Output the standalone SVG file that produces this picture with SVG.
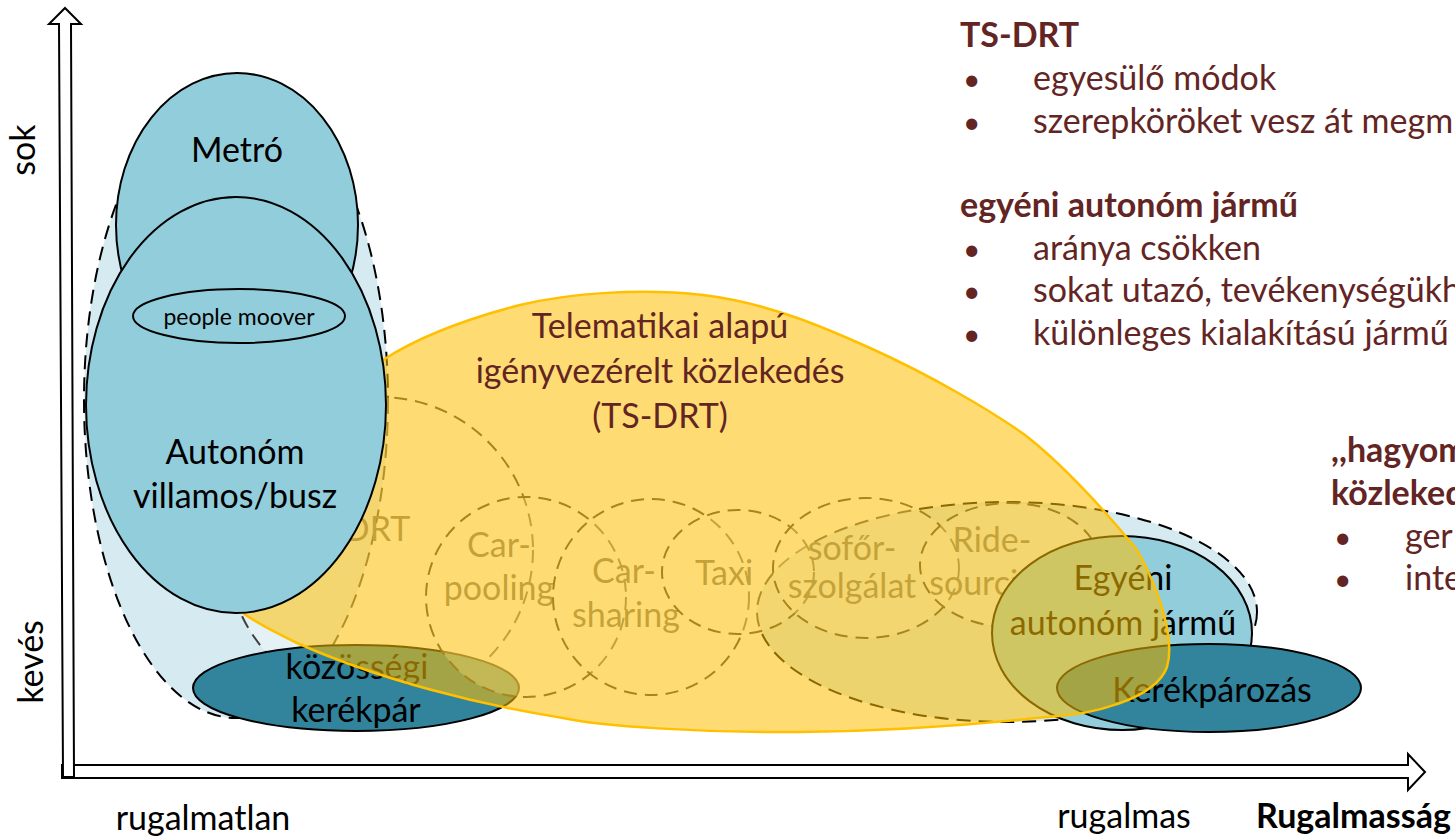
<svg xmlns="http://www.w3.org/2000/svg" width="1455" height="837" viewBox="0 0 1455 837">
<style>
text{font-family:Lato,"Open Sans",sans-serif;font-size:34px}
.blob{fill:#D6EBF1;stroke:#000;stroke-width:2;stroke-dasharray:14 8}
.c{fill:#fff;fill-opacity:0.35;stroke:#404040;stroke-width:2;stroke-dasharray:13 8}
.lt{fill:#92CDDC;stroke:#000;stroke-width:2}
.dk{fill:#31849B;stroke:#000;stroke-width:2}
.ts{fill:#FFC000;fill-opacity:0.55;stroke:#FFC000;stroke-width:2.5}
.ax{fill:#fff;stroke:#000;stroke-width:2;stroke-linejoin:miter}
.n{fill:#000;text-anchor:middle}
.g{fill:#7F7F7F;text-anchor:middle}
.m{fill:#632523}
.mc{fill:#632523;text-anchor:middle}
.b{font-weight:bold}
.bu{font-size:30px}
</style>
<g id="axes">
<polygon class="ax" points="62,765 1408,765 1408,754 1425,772 1408,790 1408,778 62,778"/>
<polygon class="ax" points="63,777 59,24 49,24 65,8 81,24 71,24 74,777"/>
<text class="n" transform="translate(35,150) rotate(-90)">sok</text>
<text class="n" transform="translate(43,662) rotate(-90)">kevés</text>
<text class="n" x="203" y="830">rugalmatlan</text>
<text class="n" x="1124" y="828">rugalmas</text>
<text class="b" x="1256" y="828" fill="#000">Rugalmasság</text>
</g>
<g id="blob-left"><ellipse class="blob" cx="236" cy="400" rx="152" ry="318"/></g>
<g id="blob-right"><ellipse class="blob" cx="1007" cy="612" rx="250" ry="110"/></g>
<g id="drt"><circle class="c" cx="380" cy="550" r="153"/><text class="g" x="377" y="541">DRT</text></g>
<g id="kozossegi"><ellipse class="dk" cx="356" cy="688" rx="163" ry="43"/><text class="n" x="357" y="679">közösségi</text><text class="n" x="356" y="722">kerékpár</text></g>
<g id="carpooling"><circle class="c" cx="526" cy="597" r="100"/><text class="g" x="499" y="557">Car-</text><text class="g" x="499" y="600">pooling</text></g>
<g id="carsharing"><circle class="c" cx="651" cy="597" r="98"/><text class="g" x="624" y="583">Car-</text><text class="g" x="626" y="627">sharing</text></g>
<g id="taxi"><ellipse class="c" cx="738" cy="572" rx="76" ry="62"/><text class="g" x="724" y="585">Taxi</text></g>
<g id="sofor"><ellipse class="c" cx="866" cy="568" rx="93" ry="70"/><text class="g" x="852" y="560">sofőr-</text><text class="g" x="852" y="598">szolgálat</text></g>
<g id="ride"><ellipse class="c" cx="1010" cy="565" rx="90" ry="62"/><text class="g" x="992" y="552">Ride-</text><text class="g" x="992" y="595">sourcing</text></g>
<g id="egyeni"><ellipse class="lt" cx="1122" cy="633" rx="130" ry="97"/><text class="n" x="1123" y="590">Egyéni</text><text class="n" x="1123" y="635">autonóm jármű</text></g>
<g id="kerekparozas"><ellipse class="dk" cx="1209" cy="688" rx="152" ry="44"/><text class="n" x="1212" y="702">Kerékpározás</text></g>
<g id="tsdrt">
<path class="ts" d="M383,360 C420,336 470,318 520,305 C570,293 640,288 703,295 C770,303 830,330 870,348 C930,375 990,410 1025,435 C1060,462 1105,510 1137,550 C1160,590 1175,640 1167,667 C1155,700 1090,715 1047,717 C1000,722 900,731 800,732 C700,733 600,726 563,718 C480,705 380,680 297,643 C270,630 255,622 243,613 L240,560 L330,400 Z"/>
<text class="mc" x="660" y="338">Telematikai alapú</text>
<text class="mc" x="660" y="383">igényvezérelt közlekedés</text>
<text class="mc" x="660" y="428">(TS-DRT)</text>
</g>
<g id="metro"><ellipse class="lt" cx="237" cy="225" rx="121" ry="152"/><text class="n" x="237" y="162">Metró</text></g>
<g id="autonom"><ellipse class="lt" cx="236" cy="405" rx="150" ry="208"/><text class="n" x="235" y="464">Autonóm</text><text class="n" x="235" y="508">villamos/busz</text></g>
<g id="peoplemoover"><ellipse class="lt" cx="239" cy="316" rx="106" ry="27"/><text class="n" x="239" y="325" style="font-size:23px">people moover</text></g>
<g id="notes">
<text class="m b" x="960" y="47">TS-DRT</text>
<text class="m bu" x="963" y="90">•</text><text class="m" x="1033" y="90">egyesülő módok</text>
<text class="m bu" x="963" y="133">•</text><text class="m" x="1033" y="133">szerepköröket vesz át megm</text>
<text class="m b" x="960" y="217">egyéni autonóm jármű</text>
<text class="m bu" x="963" y="260">•</text><text class="m" x="1033" y="260">aránya csökken</text>
<text class="m bu" x="963" y="302">•</text><text class="m" x="1033" y="302">sokat utazó, tevékenységükh</text>
<text class="m bu" x="963" y="345">•</text><text class="m" x="1033" y="345">különleges kialakítású jármű</text>
<text class="m b" x="1331" y="462">,,hagyom</text>
<text class="m b" x="1331" y="505">közleked</text>
<text class="m bu" x="1334" y="548">•</text><text class="m" x="1405" y="548">ger</text>
<text class="m bu" x="1334" y="590">•</text><text class="m" x="1405" y="590">inte</text>
</g>
</svg>
